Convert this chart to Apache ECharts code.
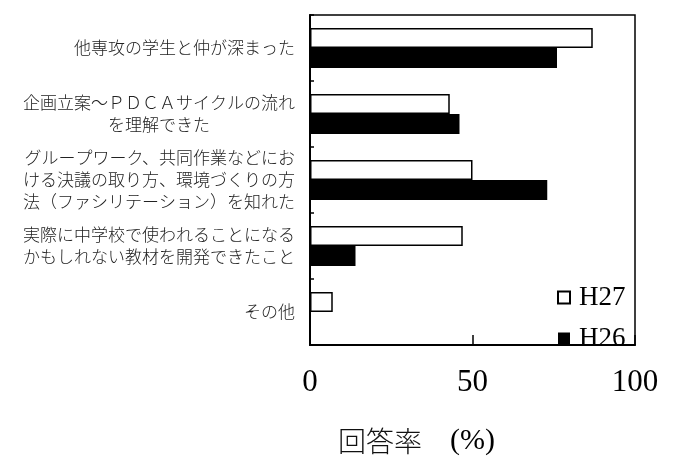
<!DOCTYPE html>
<html>
<head>
<meta charset="utf-8">
<script src="https://cdn.jsdelivr.net/npm/echarts@6/dist/echarts.min.js"></script>
<style>
  html, body { margin: 0; padding: 0; background: #fff; }
  #chart { width: 674px; height: 461px; }
</style>
</head>
<body>
<div id="chart"></div>
<script>
// Survey items (top to bottom)
const categories = [
  '他専攻の学生と仲が深まった',
  '企画立案～ＰＤＣＡサイクルの流れ\nを理解できた　　　　　',
  'グループワーク、共同作業などにお\nける決議の取り方、環境づくりの方\n法（ファシリテーション）を知れた',
  '実際に中学校で使われることになる\nかもしれない教材を開発できたこと',
  'その他'
];
// Response rate (%) per year
const h27 = [87, 43, 50, 47, 7];
const h26 = [76, 46, 73, 14, 0];
const seriesNames = ['H27', 'H26'];
const xTicks = [0, 50, 100];

const chart = echarts.init(document.getElementById('chart'));
chart.setOption({
  animation: false,
  backgroundColor: '#fff',
  grid: {
    left: 310, right: 39, top: 15, bottom: 91,
    show: true, borderColor: '#000', borderWidth: 1.5,
    containLabel: false
  },
  legend: {
    orient: 'vertical',
    left: 552, top: 279,
    itemWidth: 12, itemHeight: 12,
    itemGap: 14,
    icon: 'rect',
    data: seriesNames,
    textStyle: { fontFamily: 'Liberation Serif', fontSize: 27, color: '#000', padding: [0, 0, 0, 4] }
  },
  xAxis: {
    type: 'value',
    min: xTicks[0], max: xTicks[xTicks.length - 1], interval: 50,
    axisLine: { show: true, lineStyle: { color: '#000', width: 2 } },
    axisTick: { show: true, inside: true, length: 10, lineStyle: { color: '#000', width: 1.5 } },
    splitLine: { show: false },
    axisLabel: { fontFamily: 'Liberation Serif', fontSize: 31, color: '#000', margin: 22 },
    name: '{a|回答率　}{b|(%)}',
    nameLocation: 'middle',
    nameGap: 81,
    nameTextStyle: {
      padding: [0, 112, 0, 0],
      rich: {
        a: { fontFamily: 'Noto Sans CJK JP', fontSize: 28, color: '#111', fontWeight: 300 },
        b: { fontFamily: 'Liberation Serif', fontSize: 30, color: '#000' }
      }
    }
  },
  yAxis: {
    type: 'category',
    data: categories,
    inverse: true,
    axisLine: { show: true, lineStyle: { color: '#000', width: 2 } },
    axisTick: { show: true, inside: true, length: 4, lineStyle: { color: '#000', width: 1.5 } },
    axisLabel: {
      fontFamily: 'Noto Sans CJK JP', fontSize: 17, lineHeight: 22,
      color: '#222', fontWeight: 300, margin: 15, align: 'right',
      padding: [4, 0, 0, 0]
    }
  },
  series: [
    {
      name: seriesNames[0], type: 'bar', data: h27,
      barWidth: 20, barGap: '0%',
      itemStyle: { color: '#fff', borderColor: '#000', borderWidth: 1.5 }
    },
    {
      name: seriesNames[1], type: 'bar', data: h26,
      barWidth: 20, barGap: '0%',
      itemStyle: { color: '#000', borderColor: '#000', borderWidth: 0 }
    }
  ]
});
</script>
</body>
</html>
